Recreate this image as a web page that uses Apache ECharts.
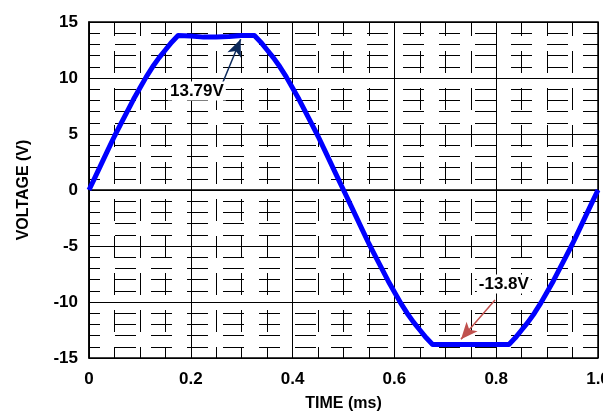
<!DOCTYPE html>
<html>
<head>
<meta charset="utf-8">
<script src="https://cdn.jsdelivr.net/npm/echarts@6/dist/echarts.min.js"></script>
<style>
html,body{margin:0;padding:0;background:#fff;}
#chart{width:603px;height:415px;}
</style>
</head>
<body>
<div id="chart"></div>
<script>
// Data
var timeMs = [0,0.0125,0.025,0.0375,0.05,0.0625,0.075,0.0875,0.1,0.1125,0.125,0.1375,0.15,0.1625,0.175,0.2,0.225,0.25,0.275,0.3,0.325,0.3375,0.35,0.3625,0.375,0.3875,0.4,0.4125,0.425,0.4375,0.45,0.4625,0.475,0.4875,0.5,0.5125,0.525,0.5375,0.55,0.5625,0.575,0.5875,0.6,0.6125,0.625,0.6375,0.65,0.6625,0.675,0.7,0.725,0.75,0.775,0.8,0.825,0.8375,0.85,0.8625,0.875,0.8875,0.9,0.9125,0.925,0.9375,0.95,0.9625,0.975,0.9875,1.0];
var voltage = [0,1.2,2.4,3.6,4.8,5.9,7.0,8.1,9.1,10.1,11.0,11.8,12.5,13.2,13.79,13.75,13.65,13.65,13.7,13.79,13.79,13.2,12.5,11.8,11.0,10.1,9.1,8.1,7.0,5.9,4.8,3.6,2.4,1.2,0,-1.2,-2.4,-3.6,-4.8,-5.9,-7.0,-8.1,-9.1,-10.1,-11.0,-11.8,-12.5,-13.2,-13.8,-13.8,-13.8,-13.8,-13.8,-13.8,-13.8,-13.2,-12.5,-11.8,-11.0,-10.1,-9.1,-8.1,-7.0,-5.9,-4.8,-3.6,-2.4,-1.2,0];
var xTicks = [0,0.2,0.4,0.6,0.8,1.0];
var yTicks = [-15,-10,-5,0,5,10,15];
var annotations = [
  {text:'13.79V', at:[0.212, 8.84], tail:[0.261, 9.4], tip:[0.298, 13.46], color:'#0d2a5c'},
  {text:'-13.8V', at:[0.815, -8.39], tail:[0.7976, -9.82], tip:[0.7308, -13.33], color:'#c0504d'}
];

var pts = timeMs.map(function(t,i){return [t, voltage[i]];});
var chart = echarts.init(document.getElementById('chart'), null, {renderer:'canvas'});
var font = '"Liberation Sans", Arial, sans-serif';

var series = [{
  type:'line',
  data: pts,
  showSymbol:false,
  lineStyle:{color:'#0000ff', width:5, join:'round'},
  z:5,
  animation:false
}];
annotations.forEach(function(a){
  series.push({
    type:'line', data:[], z:6, animation:false,
    markLine:{
      silent:true, animation:false,
      symbol:['none','arrow'], symbolSize:[11,17],
      lineStyle:{color:a.color, width:1.5, type:'solid'},
      label:{show:false},
      data:[[{coord:a.tail},{coord:a.tip}]]
    },
    markPoint:{
      silent:true, animation:false,
      symbol:'rect', symbolSize:0,
      label:{show:true, position:'inside', formatter:a.text, color:'#000', fontWeight:'bold', fontSize:17, fontFamily:font, backgroundColor:'#fff', padding:[1,2]},
      data:[{coord:a.at}]
    }
  });
});

chart.setOption({
  animation:false,
  backgroundColor:'#fff',
  grid:{left:89, right:5, top:22, bottom:57, outerBoundsMode:'none', containLabel:false, show:true, borderColor:'#000', borderWidth:1.5, backgroundColor:'transparent'},
  xAxis:{
    type:'value', min:0, max:1, interval:0.2,
    name:'TIME (ms)', nameLocation:'middle', nameGap:38,
    nameTextStyle:{color:'#000', fontWeight:'bold', fontSize:16, fontFamily:font},
    axisLine:{show:true, lineStyle:{color:'#000', width:1.5}},
    axisTick:{show:false},
    axisLabel:{color:'#000', fontWeight:'bold', fontSize:17, fontFamily:font, margin:13, hideOverlap:false,
      formatter:function(v){ var i = xTicks.indexOf(Math.round(v*10)/10); return i===0 ? '0' : xTicks[i].toFixed(1); }},
    splitLine:{show:true, lineStyle:{color:'#000', width:1}},
    minorTick:{show:false, splitNumber:4},
    minorSplitLine:{show:true, lineStyle:{color:'#000', width:1, type:[22,15], dashOffset:8}}
  },
  yAxis:{
    type:'value', min:-15, max:15, interval:5,
    name:'VOLTAGE (V)', nameLocation:'middle', nameGap:57, nameRotate:90,
    nameTextStyle:{color:'#000', fontWeight:'bold', fontSize:16, fontFamily:font},
    axisLine:{show:true, lineStyle:{color:'#000', width:1.5}},
    axisTick:{show:false},
    axisLabel:{color:'#000', fontWeight:'bold', fontSize:17, fontFamily:font, margin:11, padding:[0,0,6,0],
      formatter:function(v){ return String(yTicks[yTicks.indexOf(v)]); }},
    splitLine:{show:true, lineStyle:{color:'#000', width:1}},
    minorTick:{show:false, splitNumber:5},
    minorSplitLine:{show:true, lineStyle:{color:'#000', width:1, type:[21,15], dashOffset:10}}
  },
  series: series
});
</script>
</body>
</html>
